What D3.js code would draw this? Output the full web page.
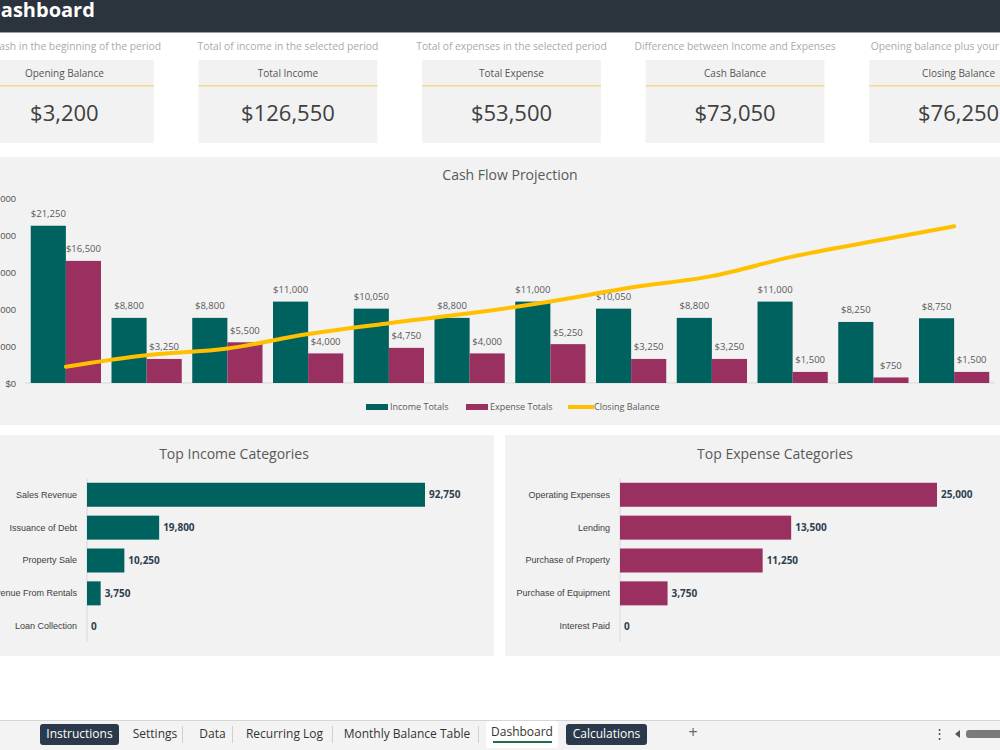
<!DOCTYPE html>
<html>
<head>
<meta charset="utf-8">
<script src="https://cdn.jsdelivr.net/npm/d3@7"></script>
<style>
  body { margin: 0; background: #fff; overflow: hidden; }
  svg { display: block; font-family: "Open Sans", "Noto Sans", sans-serif; }
</style>
</head>
<body>
<div id="chart"></div>
<script>
// KPI cards
var kpiTitles = ["Opening Balance", "Total Income", "Total Expense", "Cash Balance", "Closing Balance"];
var kpiValues = [3200, 126550, 53500, 73050, 76250];
var kpiNotes = [
    "Total cash in the beginning of the period",
    "Total of income in the selected period",
    "Total of expenses in the selected period",
    "Difference between Income and Expenses",
    "Opening balance plus your cash flow"
];

// Cash flow projection (monthly)
var months = ["Jan", "Feb", "Mar", "Apr", "May", "Jun", "Jul", "Aug", "Sep", "Oct", "Nov", "Dec"];
var incomeTotals = [21250, 8800, 8800, 11000, 10050, 8800, 11000, 10050, 8800, 11000, 8250, 8750];
var expenseTotals = [16500, 3250, 5500, 4000, 4750, 4000, 5250, 3250, 3250, 1500, 750, 1500];
var closingBalance = [7950, 13500, 16800, 23800, 29100, 33900, 39650, 46450, 52000, 61500, 69000, 76250];
var yTicks = [0, 5000, 10000, 15000, 20000, 25000];

// Top categories
var incomeCats = ["Sales Revenue", "Issuance of Debt", "Property Sale", "Revenue From Rentals", "Loan Collection"];
var incomeCatValues = [92750, 19800, 10250, 3750, 0];
var expenseCats = ["Operating Expenses", "Lending", "Purchase of Property", "Purchase of Equipment", "Interest Paid"];
var expenseCatValues = [25000, 13500, 11250, 3750, 0];

// Sheet tabs
var tabs = ["Instructions", "Settings", "Data", "Recurring Log", "Monthly Balance Table", "Dashboard", "Calculations"];

var teal = "#00625f", maroon = "#993060", gold = "#ffc000", grey = "#595959", panel = "#f2f2f2";

var svg = d3.select("#chart").append("svg").attr("width", 1000).attr("height", 750);

//// Header
svg.append("rect").attr("x", 0).attr("y", 0).attr("width", 1000).attr("height", 32).attr("fill", "#2b333d");
svg.append("rect").attr("x", 0).attr("y", 32).attr("width", 1000).attr("height", 1).attr("fill", "#9aa0a6");
svg.append("text").attr("x", -14).attr("y", 12).attr("dominant-baseline", "middle")
    .attr("fill", "#fff").attr("font-size", 20).attr("font-weight", "bold").text("Dashboard");

//// KPI cards
var cardX = d3.scaleBand().domain(kpiTitles).range([-25, 1048]).paddingInner(0.2);
var cards = svg.selectAll(".card").data(kpiTitles).enter().append("g")
    .attr("transform", d => "translate(" + cardX(d) + ",0)");
cards.append("text").attr("x", cardX.bandwidth() / 2).attr("y", 47).attr("text-anchor", "middle")
    .attr("dominant-baseline", "middle").attr("font-size", 10.3).attr("fill", "#aaa")
    .text((d, i) => kpiNotes[i]);
cards.append("rect").attr("y", 60).attr("width", cardX.bandwidth()).attr("height", 83).attr("fill", panel);
cards.append("rect").attr("y", 85).attr("width", cardX.bandwidth()).attr("height", 1.5).attr("fill", "#f3d98a");
cards.append("text").attr("x", cardX.bandwidth() / 2).attr("y", 74).attr("text-anchor", "middle")
    .attr("dominant-baseline", "middle").attr("font-size", 10).attr("fill", "#555").text(d => d);
cards.append("text").attr("x", cardX.bandwidth() / 2).attr("y", 115).attr("text-anchor", "middle")
    .attr("dominant-baseline", "middle").attr("font-size", 22).attr("fill", "#404040")
    .text((d, i) => "$" + d3.format(",")(kpiValues[i]));

//// Cash flow projection
svg.append("rect").attr("x", -10).attr("y", 157).attr("width", 1020).attr("height", 268).attr("fill", panel);
svg.append("text").attr("x", 510).attr("y", 176).attr("text-anchor", "middle").attr("dominant-baseline", "middle")
    .attr("font-size", 14).attr("fill", grey).text("Cash Flow Projection");

var x = d3.scaleBand().domain(months).range([25.5, 994.5]).paddingInner(0.13).paddingOuter(0.065);
var xs = d3.scaleBand().domain(["income", "expense"]).range([0, x.bandwidth()]);
var y = d3.scaleLinear().domain([0, 25000]).range([383, 198]);
var y2 = d3.scaleLinear().domain([0, 90000]).range([383, 198]);
var money = d3.format("$,");

svg.append("g").attr("transform", "translate(25,0)")
    .call(d3.axisLeft(y).tickValues(yTicks).tickFormat(money).tickSize(0).tickPadding(9))
    .call(g => g.select(".domain").remove())
    .call(g => g.selectAll("text").attr("fill", grey).attr("font-size", 9.5));

svg.append("line").attr("x1", 25).attr("x2", 995).attr("y1", y(0)).attr("y2", y(0))
    .attr("stroke", "#d9d9d9");

var groups = svg.selectAll(".month").data(months).enter().append("g")
    .attr("transform", d => "translate(" + x(d) + ",0)");

function addBars(key, values, color) {
    groups.append("rect")
        .attr("x", xs(key)).attr("width", xs.bandwidth())
        .attr("y", (d, i) => y(values[i])).attr("height", (d, i) => y(0) - y(values[i]))
        .attr("fill", color);
    groups.append("text")
        .attr("x", xs(key) + xs.bandwidth() / 2).attr("y", (d, i) => y(values[i]) - 11)
        .attr("text-anchor", "middle").attr("dominant-baseline", "middle")
        .attr("font-size", 9.5).attr("fill", grey)
        .text((d, i) => money(values[i]));
}
addBars("income", incomeTotals, teal);
addBars("expense", expenseTotals, maroon);

var line = d3.line()
    .x((d, i) => x(months[i]) + x.bandwidth() / 2)
    .y(d => y2(d))
    .curve(d3.curveMonotoneX);
svg.append("path").datum(closingBalance).attr("d", line)
    .attr("fill", "none").attr("stroke", gold).attr("stroke-width", 4).attr("stroke-linecap", "round");

// Legend
var legend = svg.append("g").attr("font-size", 9).attr("fill", grey);
legend.append("rect").attr("x", 366).attr("y", 404).attr("width", 22).attr("height", 6).attr("fill", teal);
legend.append("text").attr("x", 390).attr("y", 408).attr("dominant-baseline", "middle").text("Income Totals");
legend.append("rect").attr("x", 466).attr("y", 404).attr("width", 22).attr("height", 6).attr("fill", maroon);
legend.append("text").attr("x", 490).attr("y", 408).attr("dominant-baseline", "middle").text("Expense Totals");
legend.append("rect").attr("x", 568).attr("y", 405).attr("width", 26).attr("height", 4).attr("fill", gold);
legend.append("text").attr("x", 594).attr("y", 408).attr("dominant-baseline", "middle").text("Closing Balance");

//// Top categories panels
function drawTop(opts) {
    var g = svg.append("g");
    g.append("rect").attr("x", opts.left).attr("y", 435).attr("width", opts.right - opts.left).attr("height", 221)
        .attr("fill", panel);
    g.append("text").attr("x", opts.titleX).attr("y", 455).attr("text-anchor", "middle")
        .attr("dominant-baseline", "middle").attr("font-size", 14).attr("fill", grey).text(opts.title);

    var yb = d3.scaleBand().domain(opts.cats).range([478.5, 642.5]).paddingInner(0.27).paddingOuter(0.13);
    var xb = d3.scaleLinear().domain([0, opts.max]).range([opts.axisX, opts.maxX]);

    g.append("line").attr("x1", opts.axisX).attr("x2", opts.axisX).attr("y1", 478).attr("y2", 642)
        .attr("stroke", "#d9d9d9");
    g.append("g").attr("transform", "translate(" + opts.axisX + ",0)")
        .call(d3.axisLeft(yb).tickSize(0).tickPadding(10))
        .call(a => a.select(".domain").remove())
        .call(a => a.selectAll("text").attr("fill", "#404040").attr("font-size", 9));

    g.selectAll(".bar").data(opts.cats).enter().append("rect")
        .attr("x", xb(0)).attr("y", d => yb(d))
        .attr("width", (d, i) => xb(opts.values[i]) - xb(0)).attr("height", yb.bandwidth())
        .attr("fill", opts.color);
    g.selectAll(".val").data(opts.cats).enter().append("text")
        .attr("x", (d, i) => xb(opts.values[i]) + 4).attr("y", d => yb(d) + yb.bandwidth() / 2 + 1)
        .attr("dominant-baseline", "middle").attr("font-size", 10).attr("font-weight", "bold")
        .attr("fill", "#2e3e4e").text((d, i) => d3.format(",")(opts.values[i]));
}
drawTop({ left: -10, right: 494, titleX: 234, title: "Top Income Categories", cats: incomeCats,
    values: incomeCatValues, max: 92750, axisX: 87, maxX: 425, color: teal });
drawTop({ left: 505, right: 1010, titleX: 775, title: "Top Expense Categories", cats: expenseCats,
    values: expenseCatValues, max: 25000, axisX: 620, maxX: 937, color: maroon });

//// Sheet tab bar
svg.append("rect").attr("x", 0).attr("y", 720).attr("width", 1000).attr("height", 30).attr("fill", "#f3f3f3");
svg.append("rect").attr("x", 0).attr("y", 720).attr("width", 1000).attr("height", 1).attr("fill", "#d6d6d6");
var tabX = [40, 125, 190, 237, 337, 486, 566];
var tabW = [79, 60, 45, 95, 140, 72, 81];
var tabG = svg.selectAll(".tab").data(tabs).enter().append("g")
    .attr("transform", (d, i) => "translate(" + tabX[i] + ",0)");
tabG.append("rect")
    .attr("y", d => d === "Dashboard" ? 721 : 724)
    .attr("height", d => d === "Dashboard" ? 27 : 21)
    .attr("width", (d, i) => tabW[i]).attr("rx", 3)
    .attr("fill", d => d === "Dashboard" ? "#fff" : (d === "Instructions" || d === "Calculations") ? "#2b3a4a" : "none");
tabG.append("text").attr("x", (d, i) => tabW[i] / 2).attr("y", d => d === "Dashboard" ? 733 : 735)
    .attr("text-anchor", "middle").attr("dominant-baseline", "middle").attr("font-size", 12)
    .attr("fill", d => (d === "Instructions" || d === "Calculations") ? "#fff" : "#333").text(d => d);
svg.append("rect").attr("x", 493).attr("y", 741).attr("width", 59).attr("height", 2).attr("fill", "#1e7145");
[182, 232, 332, 478].forEach(function (sx) {
    svg.append("rect").attr("x", sx).attr("y", 726).attr("width", 1).attr("height", 17).attr("fill", "#d0d0d0");
});
svg.append("text").attr("x", 693).attr("y", 734).attr("text-anchor", "middle").attr("dominant-baseline", "middle")
    .attr("font-size", 16).attr("fill", "#666").text("+");
svg.append("text").attr("x", 939).attr("y", 735).attr("text-anchor", "middle").attr("dominant-baseline", "middle")
    .attr("font-size", 13).attr("fill", "#444").text("⋮");
svg.append("path").attr("d", "M955,734 L960,730 L960,738 Z").attr("fill", "#555");
svg.append("rect").attr("x", 966).attr("y", 730).attr("width", 40).attr("height", 8).attr("rx", 3).attr("fill", "#7a7a7a");
</script>
</body>
</html>
